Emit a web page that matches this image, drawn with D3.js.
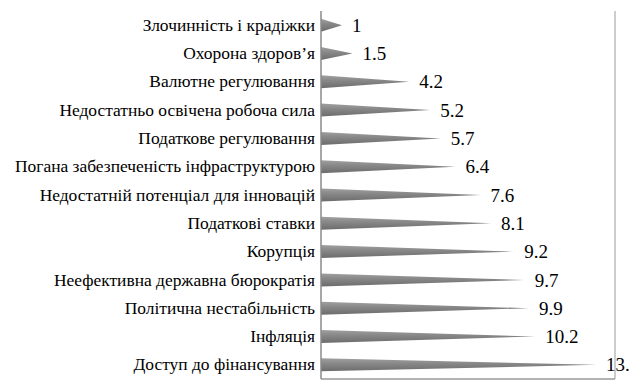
<!DOCTYPE html>
<html><head><meta charset="utf-8">
<script src="https://cdn.jsdelivr.net/npm/d3@7"></script>
<style>body{margin:0;background:#fff;overflow:hidden}svg{display:block}</style>
</head><body>
<script>
const categories = ["Злочинність і крадіжки","Охорона здоров’я","Валютне регулювання","Недостатньо освічена робоча сила","Податкове регулювання","Погана забезпеченість інфраструктурою","Недостатній потенціал для інновацій","Податкові ставки","Корупція","Неефективна державна бюрократія","Політична нестабільність","Інфляція","Доступ до фінансування"];
const values = [1,1.5,4.2,5.2,5.7,6.4,7.6,8.1,9.2,9.7,9.9,10.2,13.1];
const valueLabels = ["1","1.5","4.2","5.2","5.7","6.4","7.6","8.1","9.2","9.7","9.9","10.2","13.1"];

(function(){
const W=629,H=391;
const FONT="Liberation Serif";
const svg=d3.select("body").append("svg").attr("width",W).attr("height",H);
const pl=321, pr=615, pt=11, pb=379;
const x=d3.scaleLinear().domain([0,14]).range([pl,pl+21*14]);
const y=d3.scaleBand().domain(categories).range([pt,pb]);

const defs=svg.append("defs");
const g=defs.append("linearGradient").attr("id","cone").attr("x1",0).attr("y1",0).attr("x2",0).attr("y2",1);
g.append("stop").attr("offset","0%").attr("stop-color","#a0a0a0");
g.append("stop").attr("offset","40%").attr("stop-color","#888888");
g.append("stop").attr("offset","100%").attr("stop-color","#6c6c6c");

svg.append("line").attr("x1",pr).attr("x2",pr).attr("y1",pt).attr("y2",pb).attr("stroke","#bdbdbd").attr("stroke-width",1.5);
svg.append("line").attr("x1",pl).attr("x2",pr).attr("y1",pb).attr("y2",pb).attr("stroke","#9a9a9a").attr("stroke-width",1.5);

const half=6.5;
svg.append("g").selectAll("path").data(categories).join("path")
  .attr("d",(c,i)=>{const cy=y(c)+y.bandwidth()/2;return `M${x(0)},${cy-half}L${x(values[i])},${cy}L${x(0)},${cy+half}Z`;})
  .attr("fill","url(#cone)");

svg.append("line").attr("x1",pl).attr("x2",pl).attr("y1",pt).attr("y2",pb).attr("stroke","#8a8a8a").attr("stroke-width",1.5);

svg.append("g").selectAll("text").data(categories).join("text")
  .attr("transform",c=>`translate(315,${y(c)+y.bandwidth()/2}) scale(1.09,1)`)
  .attr("dy","0.35em")
  .attr("text-anchor","end").attr("font-size",16).attr("fill","#000")
  .style("font-family",FONT)
  .text(c=>c);

svg.append("g").selectAll("text").data(categories).join("text")
  .attr("x",(c,i)=>x(values[i])+10).attr("y",c=>y(c)+y.bandwidth()/2).attr("dy","0.35em")
  .attr("font-size",19).attr("fill","#000")
  .style("font-family",FONT)
  .text((c,i)=>valueLabels[i]);
})();
</script>
</body></html>
